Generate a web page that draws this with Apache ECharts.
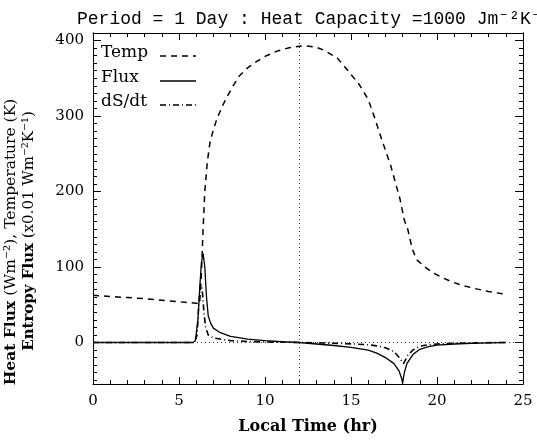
<!DOCTYPE html>
<html><head><meta charset="utf-8">
<script src="https://cdn.jsdelivr.net/npm/echarts@6/dist/echarts.min.js"></script>
<style>html,body{margin:0;padding:0;background:#fff}#c{width:537px;height:440px}</style>
</head><body><div id="c"></div><script>
// ---- data ----
const tempHours  = [0,1,2,3,4,5,6,6.2,6.3,6.4,6.5,6.65,6.8,7.0,7.2,7.5,7.8,8.2,8.5,9.0,9.5,10.0,10.7,11.4,12.0,12.4,13.0,13.4,14.2,14.9,15.5,16.0,16.4,16.8,17.3,17.85,18.1,18.3,18.55,18.8,19.3,19.8,20.4,20.9,21.5,22.3,23.0,23.8,24];
const tempValues = [62.5,61,59.5,58,56,54,52,51,90,150,200,240,265,282,296,312,326,342,353,364,372,379,386,390.5,392.5,393,391,387.5,377,358,341,322,296,268,235,190,162,150,125,110,100,92,85,80,75.5,71,67.5,64.5,64];
const fluxHours  = [0,5.8,5.95,6.1,6.2,6.3,6.4,6.5,6.6,6.7,6.85,7.0,7.4,8,9,10,11,12,13,14,15,16,16.5,17,17.5,17.8,17.95,18.0,18.1,18.25,18.6,19,19.5,20,21,22,23,24];
const fluxValues = [0,0,2,30,70,105,118,100,60,35,25,19,13,8,4.5,2.5,1,0,-2,-4,-6.5,-10,-14,-20,-28,-38,-48,-54,-40,-28,-16,-9,-5.5,-3.5,-2,-1,-0.5,0];
const dsdtHours  = [0,5.9,6.05,6.15,6.25,6.35,6.45,6.55,6.7,7,7.5,8,9,10,11,12,13,14,15,16,16.5,17,17.5,17.8,18.05,18.15,18.3,18.6,19,19.5,20,21,22,24];
const dsdtValues = [0,0,10,50,78,70,40,20,10,6,4,2.5,1.3,0.7,0.3,0,-0.5,-1,-1.8,-3,-4.5,-7,-12,-20,-28,-24,-17,-10,-5,-3,-2,-1,-0.5,0];
const seriesNames = ['Temp','Flux','dS/dt'];
const xTicks = [0,5,10,15,20,25];
const yTickLabels = [0,100,200,300,400];
const refHour = 12, refLevel = 0;
// ---- chart ----
const font = 'DejaVu Serif';
const monoFont = 'Liberation Mono, DejaVu Sans Mono';
const yMin = -55, yMax = 410;
const yMinor = []; for (let v = -50; v <= 400; v += 10) yMinor.push(v);
const pairs = (h, v) => h.map((x, i) => [x, v[i]]);
const black = '#000';
const dashTemp = [6,5], dashDsdt = [6,3,1,3];
const xBase = (pos, labels) => ({
  type:'value', min:xTicks[0], max:xTicks[xTicks.length-1], interval:5, position:pos,
  axisLine:{show:true,onZero:false,lineStyle:{color:black,width:1}},
  axisTick:{show:true,inside:true,length:7,lineStyle:{color:black,width:1}},
  minorTick:{show:true,splitNumber:5,length:4,lineStyle:{color:black,width:1}},
  splitLine:{show:false}, minorSplitLine:{show:false},
  axisLabel:{show:labels,color:black,fontFamily:font,fontSize:15,margin:10}
});
const yBase = (pos, major) => ({
  type:'value', min:yMin, max:yMax, position:pos,
  axisLine:{show:true,onZero:false,lineStyle:{color:black,width:1}},
  axisTick:{show:true,inside:true,length:major?8:4,customValues:major?yTickLabels:yMinor,lineStyle:{color:black,width:1}},
  splitLine:{show:false},
  axisLabel:{show:major&&pos==='left',customValues:yTickLabels,color:black,fontFamily:font,fontSize:15,margin:9}
});
const bottomX = xBase('bottom', true);
bottomX.name = 'Local Time (hr)';
bottomX.nameLocation = 'middle';
bottomX.nameGap = 35;
bottomX.nameTextStyle = {fontFamily:font,fontSize:16,fontWeight:'bold',color:black};

// legend drawn as text + line samples (IDL style: label then line)
const legendRows = [53, 78, 102];
const legendDash = [dashTemp, null, dashDsdt];
const legendGraphic = [];
seriesNames.forEach((n, i) => {
  legendGraphic.push({type:'text', x:101, y:legendRows[i],
    style:{text:n,fontFamily:font,fontSize:17,fill:black,align:'left',verticalAlign:'middle'}});
  legendGraphic.push({type:'line', shape:{x1:160,y1:legendRows[i]+3,x2:196,y2:legendRows[i]+3},
    style:{stroke:black,lineWidth:1.5,lineDash:legendDash[i]}});
});

const option = {
  animation:false,
  backgroundColor:'#fff',
  title:{text:'Period = 1 Day : Heat Capacity =1000 Jm\u207B\u00B2K\u207B\u00B9', left:72, top:5,
    textStyle:{fontFamily:monoFont,fontSize:18,fontWeight:'normal',color:black}},
  grid:{left:93,right:14,top:33,bottom:51,containLabel:false},
  xAxis:[bottomX, xBase('top', false)],
  yAxis:[yBase('left',true), yBase('left',false), yBase('right',true), yBase('right',false)],
  series:[
    {type:'line',name:seriesNames[0],xAxisIndex:0,yAxisIndex:0,data:pairs(tempHours,tempValues),
     symbol:'none',showSymbol:false,lineStyle:{color:black,width:1.5,type:dashTemp},itemStyle:{color:black},
     markLine:{silent:true,symbol:'none',label:{show:false},
       lineStyle:{color:'#333',width:1,type:[1,3]},
       data:[{yAxis:refLevel},{xAxis:refHour}]}},
    {type:'line',name:seriesNames[1],xAxisIndex:0,yAxisIndex:0,data:pairs(fluxHours,fluxValues),
     symbol:'none',showSymbol:false,lineStyle:{color:black,width:1.3,type:'solid'},itemStyle:{color:black}},
    {type:'line',name:seriesNames[2],xAxisIndex:0,yAxisIndex:0,data:pairs(dsdtHours,dsdtValues),
     symbol:'none',showSymbol:false,lineStyle:{color:black,width:1.6,type:dashDsdt},itemStyle:{color:black}}
  ],
  graphic:[
    {type:'text',rotation:Math.PI/2,x:11,y:242,
     style:{text:'{b|Heat Flux} (Wm\u207B\u00B2), Temperature (K)',fontFamily:font,fontSize:15.5,fill:black,
       align:'center',verticalAlign:'middle',rich:{b:{fontFamily:font,fontSize:15.5,fontWeight:'bold',fill:black}}}},
    {type:'text',rotation:Math.PI/2,x:29,y:231,
     style:{text:'{b|Entropy Flux} (x0.01 Wm\u207B\u00B2K\u207B\u00B9)',fontFamily:font,fontSize:15,fill:black,
       align:'center',verticalAlign:'middle',rich:{b:{fontFamily:font,fontSize:15,fontWeight:'bold',fill:black}}}}
  ].concat(legendGraphic)
};
const chart = echarts.init(document.getElementById('c'));
chart.setOption(option);
</script></body></html>
